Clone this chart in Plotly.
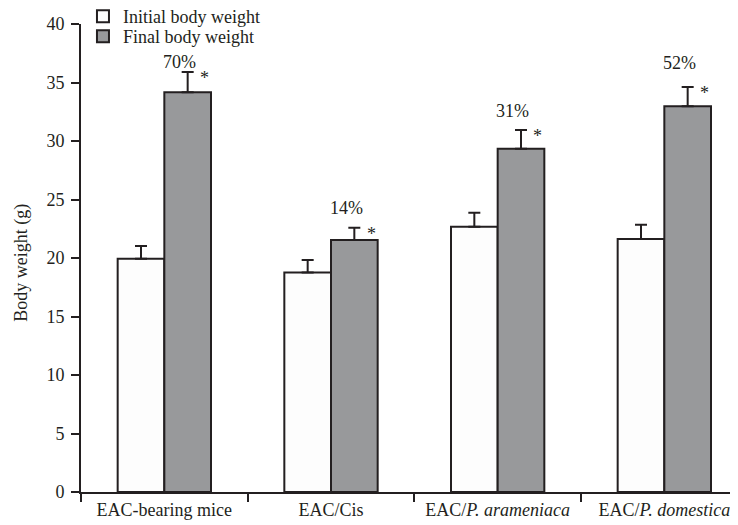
import plotly.graph_objects as go

categories = ["EAC-bearing mice", "EAC/Cis", "EAC/<i>P. arameniaca</i>", "EAC/<i>P. domestica</i>"]
initial_weight = [19.93, 18.77, 22.67, 21.62]
initial_err = [1.1, 1.05, 1.2, 1.22]
final_weight = [34.17, 21.53, 29.34, 32.97]
final_err = [1.73, 1.05, 1.6, 1.65]
pct_labels = ["70%", "14%", "31%", "52%"]
signif = ["*", "*", "*", "*"]

INK = "#231f20"
GRAY = "#98999b"
FONT = "Liberation Serif"

fig = go.Figure()
fig.add_trace(go.Bar(
    name="Initial body weight", x=categories, y=initial_weight, legend="legend",
    marker=dict(color="#fdfdfd", line=dict(color=INK, width=2)),
    error_y=dict(type="data", array=initial_err, arrayminus=[0]*4, symmetric=False,
                 color=INK, thickness=2, width=6),
))
fig.add_trace(go.Bar(
    name="Final body weight", x=categories, y=final_weight, legend="legend2",
    marker=dict(color=GRAY, line=dict(color=INK, width=2)),
    error_y=dict(type="data", array=final_err, arrayminus=[0]*4, symmetric=False,
                 color=INK, thickness=2, width=6),
))

pct_shift = [10, 20, 19, 24]
for i, c in enumerate(categories):
    top = final_weight[i] + final_err[i]
    fig.add_annotation(x=c, y=top, text=pct_labels[i], showarrow=False,
                       xshift=15, yshift=pct_shift[i], yanchor="middle",
                       font=dict(family=FONT, size=18, color=INK))
    fig.add_annotation(x=c, y=top, text=signif[i], showarrow=False,
                       xshift=40, yshift=-6, yanchor="middle",
                       font=dict(family=FONT, size=18, color=INK))

fig.add_annotation(xref="paper", yref="paper", x=-59/657, y=0.49,
                   xanchor="center", yanchor="middle",
                   text="Body weight (g)", textangle=-90, showarrow=False,
                   font=dict(family=FONT, size=18, color=INK))

leg_common = dict(xanchor="left", yanchor="top", bgcolor="rgba(0,0,0,0)",
                  font=dict(family=FONT, size=18, color=INK), itemwidth=30)

fig.update_layout(
    width=730, height=517,
    margin=dict(l=73, r=0, t=16, b=33, autoexpand=False),
    paper_bgcolor="white", plot_bgcolor="white",
    barmode="group", bargap=0.44, bargroupgap=0,
    font=dict(family=FONT, size=18, color=INK),
    showlegend=True,
    legend=dict(x=0.003, y=1.0555, **leg_common),
    legend2=dict(x=0.003, y=1.0128, **leg_common),
    xaxis=dict(type="category", range=[-0.5, 3.442], tickson="boundaries",
               ticks="outside", ticklen=8, tickwidth=2, tickcolor=INK,
               showline=True, linewidth=2, linecolor=INK, showgrid=False,
               tickfont=dict(family=FONT, size=18, color=INK), automargin=False),
    yaxis=dict(range=[0, 40], tickvals=[0, 5, 10, 15, 20, 25, 30, 35, 40],
               ticks="outside", ticklen=8, tickwidth=2, tickcolor=INK,
               showline=True, linewidth=2, linecolor=INK, showgrid=False, zeroline=False,
               ticklabelstandoff=3,
               tickfont=dict(family=FONT, size=18, color=INK), automargin=False),
)

fig.write_html("out.html")
